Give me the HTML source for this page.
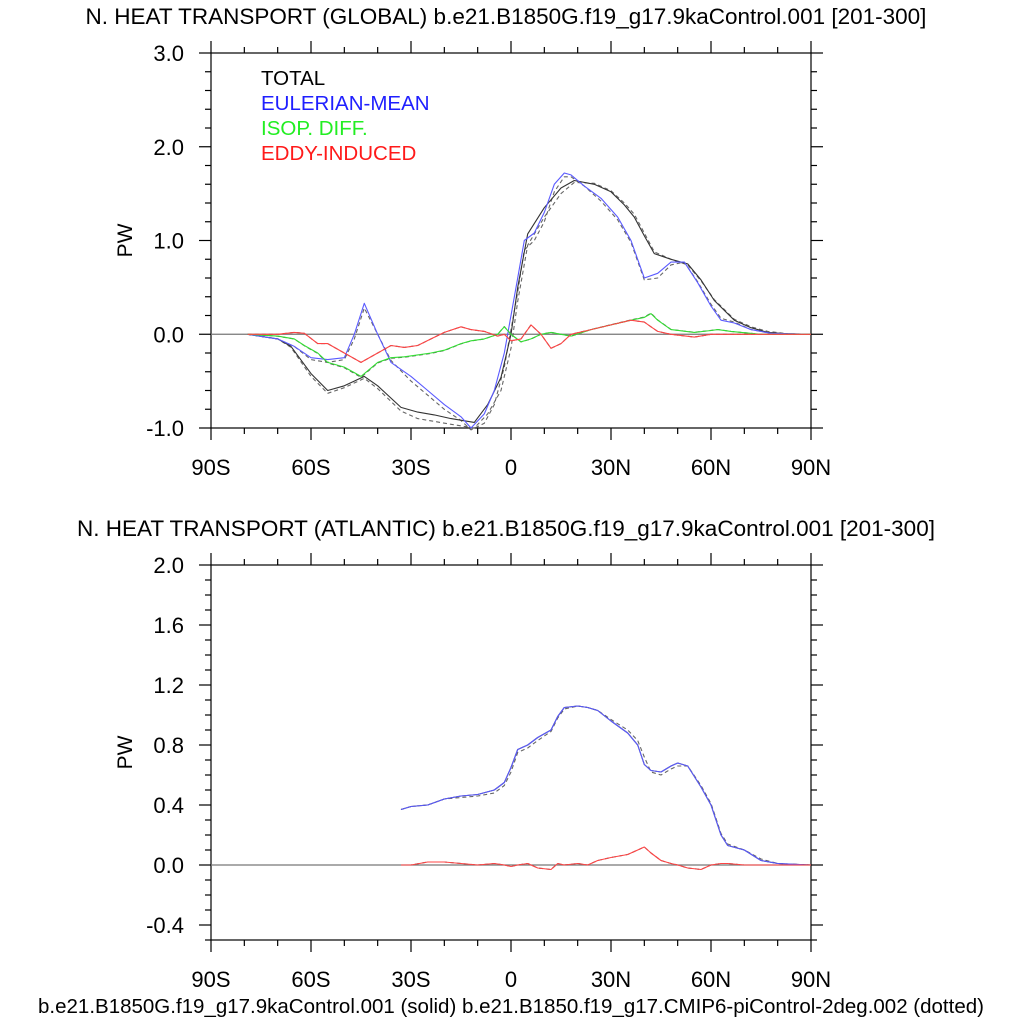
<!DOCTYPE html>
<html><head><meta charset="utf-8"><style>
body{margin:0;background:#fff}
svg text{font-family:"Liberation Sans",sans-serif;fill:#000}
</style></head><body>
<svg id="c" width="1024" height="1024"></svg>
<script>
const lat = [-79,-70,-65,-60,-55,-50,-47,-44,-40,-36,-30,-25,-20,-15,-12,-8,-5,-2,0,2,4,7,10,13,16,18,22,27,32,36,40,44,48,52,56,60,63,67,72,78,90];
const gEul = [0,-0.05,-0.13,-0.25,-0.27,-0.25,0,0.33,0,-0.3,-0.45,-0.6,-0.75,-0.88,-1.0,-0.85,-0.6,-0.2,0.2,0.6,1.0,1.08,1.3,1.6,1.72,1.7,1.58,1.45,1.25,1.0,0.6,0.65,0.77,0.77,0.55,0.3,0.15,0.12,0.05,0.01,0];
const gEulD = [0,-0.05,-0.13,-0.27,-0.3,-0.27,-0.05,0.28,0,-0.28,-0.5,-0.65,-0.8,-0.92,-1.02,-0.95,-0.75,-0.35,0.05,0.45,0.9,1.0,1.2,1.52,1.68,1.68,1.58,1.42,1.22,0.98,0.58,0.6,0.74,0.77,0.56,0.32,0.17,0.13,0.05,0.01,0];
const totLat = [-79,-70,-66,-60,-55,-50,-44,-40,-33,-28,-23,-18,-11,-7,-3,0,2,5,10,15,19,25,30,34,37,40,43,48,53,57,61,67,72,77,83,90];
const gTot = [0,-0.05,-0.13,-0.42,-0.6,-0.55,-0.45,-0.55,-0.78,-0.83,-0.86,-0.9,-0.94,-0.75,-0.46,0.0,0.5,1.07,1.35,1.56,1.64,1.6,1.52,1.38,1.25,1.05,0.86,0.8,0.75,0.58,0.36,0.15,0.07,0.02,0.005,0];
const gTotD = [0,-0.05,-0.14,-0.45,-0.63,-0.57,-0.47,-0.58,-0.82,-0.9,-0.93,-0.96,-1.0,-0.85,-0.6,-0.15,0.35,0.95,1.25,1.5,1.62,1.61,1.53,1.4,1.28,1.08,0.88,0.8,0.74,0.57,0.37,0.16,0.08,0.03,0.005,0];
const smLat = [-79,-70,-65,-62,-58,-55,-50,-45,-40,-36,-32,-28,-24,-20,-15,-12,-8,-4,-2,0,3,6,9,12,15,18,24,30,36,40,42,44,48,55,60,62,66,75,90];
const gIso = [0,-0.02,-0.05,-0.12,-0.2,-0.3,-0.35,-0.45,-0.3,-0.25,-0.24,-0.22,-0.2,-0.17,-0.1,-0.07,-0.05,0.0,0.08,0.0,-0.08,-0.05,0.0,0.02,0.0,-0.02,0.05,0.1,0.15,0.18,0.22,0.15,0.05,0.02,0.04,0.05,0.03,0.0,0];
const gEddy = [0,0,0.02,0.01,-0.1,-0.1,-0.2,-0.3,-0.2,-0.12,-0.14,-0.12,-0.05,0.02,0.08,0.05,0.03,-0.02,0.0,-0.07,-0.05,0.1,0.0,-0.15,-0.1,0.0,0.05,0.1,0.15,0.13,0.08,0.03,0.0,-0.03,0.0,0.0,0.0,0.0,0];
const aLat = [-33,-30,-25,-20,-15,-10,-5,-2,0,2,5,8,12,14,16,20,23,26,30,35,38,40,42,45,48,50,53,57,60,63,65,70,75,80,90];
const aEul = [0.37,0.39,0.4,0.44,0.46,0.47,0.5,0.55,0.65,0.77,0.8,0.85,0.9,0.99,1.05,1.06,1.05,1.03,0.96,0.88,0.8,0.67,0.63,0.62,0.66,0.68,0.66,0.52,0.4,0.2,0.13,0.1,0.03,0.01,0];
const aEulD = [0.37,0.39,0.4,0.44,0.45,0.46,0.48,0.53,0.62,0.75,0.78,0.83,0.89,0.98,1.04,1.06,1.05,1.03,0.97,0.9,0.83,0.72,0.62,0.6,0.64,0.66,0.66,0.53,0.41,0.21,0.14,0.1,0.04,0.01,0];
const aEddy = [0,0,0.02,0.02,0.01,0.0,0.01,0.0,-0.01,0.0,0.01,-0.02,-0.03,0.01,0.0,0.01,0.0,0.03,0.05,0.07,0.1,0.12,0.08,0.03,0.01,0.0,-0.02,-0.03,0.0,0.01,0.01,0.0,0.0,0.0,0];
const xTicks = ["90S","60S","30S","0","30N","60N","90N"];

const svg = document.getElementById('c');
const NS = 'http://www.w3.org/2000/svg';
function mk(tag, a, p){const e=document.createElementNS(NS,tag);for(const k in a)e.setAttribute(k,a[k]);(p||svg).appendChild(e);return e;}
function X(l){return 211 + (l+90)*600/180;}

function panel(name, top, vmin, vmax, major, minor, fmt, title){
  const bot = top+375;
  const Y = v => bot - (v-vmin)*375/(vmax-vmin);
  const g = mk('g',{});  
  const t = mk('text',{x:506,y:top-29,'text-anchor':'middle','font-size':22.5},g); t.textContent=title;
   
  const ax = mk('g',{stroke:'#000','stroke-width':1.2},g);
   
  mk('rect',{x:211,y:top,width:600,height:375,fill:'none'},ax);
  for(let l=-90;l<=90;l+=10){const L=(l%30===0)?12:6;const x=X(l);
    mk('line',{x1:x,x2:x,y1:bot,y2:bot+L},ax);mk('line',{x1:x,x2:x,y1:top,y2:top-L},ax);}
  const n=Math.round((vmax-vmin)/minor);
  for(let i=0;i<=n;i++){const v=vmin+i*minor;const isM=Math.abs(Math.round(v/major)*major-v)<1e-6;const L=isM?12:6;const y=Y(v);
    mk('line',{x1:211,x2:211-L,y1:y,y2:y},ax);mk('line',{x1:811,x2:811+L,y1:y,y2:y},ax);
    if(isM && v<=vmax+1e-6){const tl=mk('text',{x:184,y:y+8,'text-anchor':'end','font-size':22},g);tl.textContent=v.toFixed(fmt);
      }}
  xTicks.forEach((s,i)=>{const tl=mk('text',{x:X(-90+30*i),y:bot+47,'text-anchor':'middle','font-size':22},g);tl.textContent=s;
    });
  const pw=mk('text',{x:132,y:(top+bot)/2,'text-anchor':'middle','font-size':21,transform:`rotate(-90 132 ${(top+bot)/2})`},g);pw.textContent='PW';
  
  mk('line',{x1:211,x2:811,y1:Y(0),y2:Y(0),stroke:'#777','stroke-width':1.3},g);
  return {g,Y};
}
function series(p, name, xs, ys, col, dash){
  const pts = xs.map((l,i)=>X(l).toFixed(1)+','+p.Y(ys[i]).toFixed(1)).join(' ');
  const e = mk('polyline',{points:pts,fill:'none',stroke:col,'stroke-width':1.1,'stroke-linejoin':'round'},p.g);
  if(dash) e.setAttribute('stroke-dasharray','4 3');
  
  
}
const p1 = panel('global-panel',53,-1,3,1,0.2,1,'N. HEAT TRANSPORT (GLOBAL) b.e21.B1850G.f19_g17.9kaControl.001 [201-300]');
series(p1,'global-total-dotted',totLat,gTotD,'#666',true);
series(p1,'global-eulerian-dotted',lat,gEulD,'#666',true);
series(p1,'global-isop-dotted',smLat,gIso.map(v=>v*1.02),'#555',true);
series(p1,'global-eddy-dotted',smLat,gEddy,'#555',true);
series(p1,'global-total',totLat,gTot,'#333',false);
series(p1,'global-eulerian',lat,gEul,'#5a5aff',false);
series(p1,'global-isop',smLat,gIso,'#33dd33',false);
series(p1,'global-eddy',smLat,gEddy,'#ff4444',false);
[['TOTAL','#000'],['EULERIAN-MEAN','#1f1fff'],['ISOP. DIFF.','#22ee22'],['EDDY-INDUCED','#ff1a1a']].forEach((d,i)=>{
  const t=mk('text',{x:261,y:85+25*i,'font-size':20.5,style:'fill:'+d[1]},p1.g);t.textContent=d[0];
  });
const p2 = panel('atlantic-panel',565,-0.5,2,0.4,0.1,1,'N. HEAT TRANSPORT (ATLANTIC) b.e21.B1850G.f19_g17.9kaControl.001 [201-300]');
series(p2,'atlantic-total-dotted',aLat,aEulD,'#666',true);
series(p2,'atlantic-eddy-dotted',aLat,aEddy,'#555',true);
series(p2,'atlantic-total',aLat,aEul,'#333',false);
series(p2,'atlantic-eulerian',aLat,aEul,'#5a5aff',false);
series(p2,'atlantic-eddy',aLat,aEddy,'#ff4444',false);
const f=mk('text',{x:511,y:1013,'text-anchor':'middle','font-size':20.5});
f.textContent='b.e21.B1850G.f19_g17.9kaControl.001 (solid) b.e21.B1850.f19_g17.CMIP6-piControl-2deg.002 (dotted)';


</script>
</body></html>
